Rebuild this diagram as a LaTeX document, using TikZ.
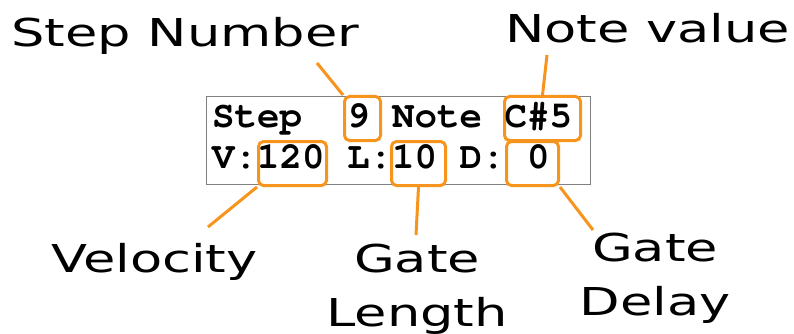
\documentclass[tikz,border=0pt]{standalone}
\usepackage[T1]{fontenc}
\usepackage{fontspec}
\newfontfamily\tagfont[FakeStretch=1.37]{DejaVu Sans}
\newcommand\lcdfont{\fontencoding{T1}\fontfamily{pcr}\fontseries{b}\fontshape{n}\fontsize{37.5}{45}\selectfont}
\definecolor{hilite}{HTML}{F7941D}
\definecolor{bezel}{HTML}{808080}

\begin{document}
\begin{tikzpicture}[x=1pt,y=-1pt,
  field/.style={draw=hilite,fill=white,line width=3pt,rounded corners=5pt,inner sep=0pt},
  tag/.style={font=\tagfont\fontsize{38.4}{53.5}\selectfont,inner sep=0pt},
  lead/.style={draw=hilite,line width=3pt}]
\useasboundingbox (0,0) rectangle (794,334);
\node[draw=bezel,line width=1pt,minimum width=384pt,minimum height=87pt,inner sep=0pt] (lcd) at (398,140.5) {};
\node[field,minimum width=36pt,minimum height=44pt] (num) at (362.5,118.5) {};
\node[field,minimum width=76pt,minimum height=44pt] (note) at (542.5,118.5) {};
\node[field,minimum width=68pt,minimum height=44pt] (vel) at (292.5,163.5) {};
\node[field,minimum width=54pt,minimum height=44pt] (len) at (418.5,163.5) {};
\node[field,minimum width=52pt,minimum height=44pt] (del) at (532.5,163.5) {};
\node[font=\lcdfont,anchor=base west,inner sep=0pt] (top) at (212,128) {Step\ \ 9 Note C\#5};
\node[font=\lcdfont,anchor=base west,inner sep=0pt] (bottom) at (212,168) {V:120 L:10 D: 0};
% labels round the display
\node[tag,anchor=base west] (numtag) at (11,47) {Step Number};
\node[tag,anchor=base west] (notetag) at (505,43) {Note value};
\node[tag,anchor=base west] (veltag) at (51,272) {Velocity};
\node[tag,align=center,anchor=base] (lentag) at (417,326) {Gate\\Length};
\node[tag,align=center,anchor=base] (deltag) at (655,315) {Gate\\Delay};
\coordinate (numend) at (317,63);
\coordinate (noteend) at (547,55);
\coordinate (velend) at (208,227);
\coordinate (lenend) at (416,235);
\coordinate (delend) at (593,230);
\draw[lead] (num.north west)--(numend);
\draw[lead] (note.north)--(noteend);
\draw[lead] (vel.south west)--(velend);
\draw[lead] (len.south)--(lenend);
\draw[lead] (del.south east)--(delend);
\end{tikzpicture}
\end{document}
